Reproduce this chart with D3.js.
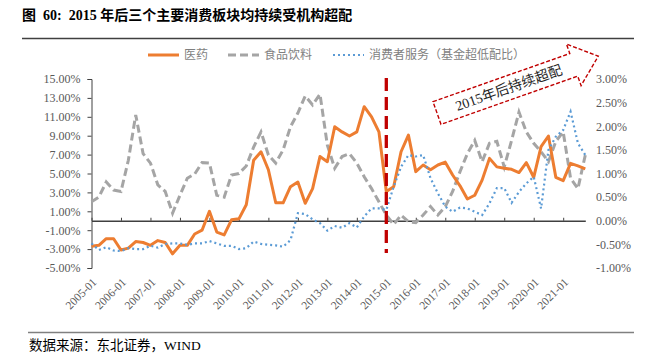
<!DOCTYPE html>
<html>
<head>
<meta charset="utf-8">
<script src="https://cdn.jsdelivr.net/npm/d3@7"></script>
<style>
  body { margin: 0; background: #fff; }
  svg { display: block; }
  text { font-family: "Liberation Serif", "Times New Roman", "Noto Sans CJK SC", serif; }
</style>
</head>
<body>
<svg id="chart" width="654" height="364"></svg>
<script>
// quarterly categories 2005-01 .. 2021-10
var years = d3.range(2005, 2022);
var months = ["01", "04", "07", "10"];
var categories = [];
years.forEach(function (y) { months.forEach(function (m) { categories.push(y + "-" + m); }); });

var tickLabels = ["2005-01","2006-01","2007-01","2008-01","2009-01","2010-01","2011-01","2012-01",
  "2013-01","2014-01","2015-01","2016-01","2017-01","2018-01","2019-01","2020-01","2021-01"];

// 医药 (left axis, %)
var medicine = [-2.7,-2.6,-1.9,-1.9,-3.1,-2.9,-2.2,-2.3,-2.6,-2.1,
  -2.3,-3.5,-2.6,-2.6,-1.4,-1.0,1.0,-1.2,-1.5,0.1,
  0.2,1.7,6.4,7.3,5.4,1.9,1.9,3.6,4.1,1.85,
  3.4,6.8,6.25,9.95,9.4,8.97,9.4,12.07,11.0,9.4,
  3.1,3.6,7.3,9.07,5.2,5.9,5.4,5.9,6.2,4.84,
  3.7,2.3,2.7,4.3,6.6,5.7,5.55,5.44,5.1,6.15,
  4.6,7.84,8.97,4.6,4.24,6.07,5.8,5.5];

// 食品饮料 (left axis, %)
var food = [2.0,2.5,4.1,3.25,3.1,6.4,11.2,7.1,6.1,3.8,
  3.1,0.8,2.7,4.5,4.95,6.15,6.1,2.7,2.5,4.84,
  5.0,5.8,7.8,9.4,6.95,6.1,7.5,9.95,11.4,13.2,
  12.25,13.4,8.0,5.55,6.8,7.1,6.1,4.66,3.4,2.0,
  0.6,-0.4,0.6,-0.1,-0.2,0.6,1.5,0.6,1.5,3.1,
  5.2,7.1,8.5,6.25,8.2,8.4,5.7,8.5,11.5,9.4,
  8.2,7.3,6.25,8.4,9.4,4.5,3.4,6.95];

// 消费者服务 (right axis, %)
var services = [-0.48,-0.62,-0.56,-0.63,-0.64,-0.58,-0.6,-0.6,-0.53,-0.57,
  -0.49,-0.48,-0.48,-0.51,-0.48,-0.48,-0.43,-0.48,-0.53,-0.53,
  -0.6,-0.58,-0.44,-0.49,-0.51,-0.52,-0.55,-0.41,0.16,0.14,
  0.03,-0.05,-0.21,-0.11,-0.15,-0.05,-0.14,0.09,0.26,0.26,
  0.23,0.72,1.14,1.39,1.36,1.39,0.9,0.58,0.3,0.19,
  0.28,0.26,0.19,0.12,0.37,0.69,0.69,0.38,0.61,0.79,
  0.93,0.26,1.5,1.78,1.92,2.31,1.64,1.39];

var leftTicks = [-5, -3, -1, 1, 3, 5, 7, 9, 11, 13, 15];
var rightTicks = [-1, -0.5, 0, 0.5, 1, 1.5, 2, 2.5, 3];

var svg = d3.select("#chart");
var plotTop = 79, plotBottom = 268;

var x = d3.scalePoint().domain(categories).range([91.5, 585.3]);
var yL = d3.scaleLinear().domain([-5, 15]).range([plotBottom, plotTop]);
var yR = d3.scaleLinear().domain([-1, 3]).range([plotBottom, plotTop]);

// title
svg.append("text").attr("x", 22).attr("y", 20)
    .attr("font-size", 14).attr("font-weight", "bold").attr("fill", "#000")
    .style("white-space", "pre")
    .text("图  60:  2015 年后三个主要消费板块均持续受机构超配");
svg.append("line").attr("x1", 22).attr("x2", 634).attr("y1", 38.5).attr("y2", 38.5)
    .attr("stroke", "#404040").attr("stroke-width", 1.3);

// left axis
var gL = svg.append("g").attr("transform", "translate(91.5,0)")
    .call(d3.axisLeft(yL).tickValues(leftTicks).tickSize(4).tickPadding(7)
        .tickFormat(function (d) { return d.toFixed(2) + "%"; }));
gL.selectAll("path,line").attr("stroke", "#404040");
gL.selectAll("text").attr("font-size", 12).attr("fill", "#595959")
    .style("font-family", "'Liberation Serif', serif");

// right axis (labels only)
var gR = svg.append("g").attr("transform", "translate(591,0)")
    .call(d3.axisRight(yR).tickValues(rightTicks).tickSize(0).tickPadding(5)
        .tickFormat(function (d) { return d.toFixed(2) + "%"; }));
gR.select(".domain").remove();
gR.selectAll("text").attr("font-size", 12).attr("fill", "#595959")
    .style("font-family", "'Liberation Serif', serif");

// x axis line at zero with upward ticks
var gX = svg.append("g").attr("transform", "translate(0," + yL(0) + ")")
    .call(d3.axisTop(x).tickValues(tickLabels).tickSize(3).tickSizeOuter(0).tickFormat(""));
gX.selectAll("path,line").attr("stroke", "#404040");
gX.select(".domain").attr("stroke-width", 1.5);

// x labels at bottom, rotated
svg.append("g").selectAll("text").data(tickLabels).enter().append("text")
    .attr("transform", function (d) { return "translate(" + (x(d) + 3) + ",280) rotate(-45)"; })
    .attr("text-anchor", "end").attr("dy", "0.35em")
    .attr("font-size", 11.5).attr("fill", "#595959")
    .text(function (d) { return d; });

// lines
var lineL = d3.line().x(function (d, i) { return x(categories[i]); }).y(function (d) { return yL(d); });
var lineR = d3.line().x(function (d, i) { return x(categories[i]); }).y(function (d) { return yR(d); });

svg.append("path").datum(food).attr("d", lineL)
    .attr("fill", "none").attr("stroke", "#A5A5A5").attr("stroke-width", 3)
    .attr("stroke-dasharray", "8,4");
svg.append("path").datum(medicine).attr("d", lineL)
    .attr("fill", "none").attr("stroke", "#ED7D31").attr("stroke-width", 3)
    .attr("stroke-linejoin", "round");
svg.append("path").datum(services).attr("d", lineR)
    .attr("fill", "none").attr("stroke", "#5B9BD5").attr("stroke-width", 2.2)
    .attr("stroke-dasharray", "2,3");

// 2015 marker
svg.append("line").attr("x1", x("2015-01")).attr("x2", x("2015-01"))
    .attr("y1", 78).attr("y2", 253)
    .attr("stroke", "#C00000").attr("stroke-width", 3.3).attr("stroke-dasharray", "13,6");

// legend
var legend = [
  { name: "医药", color: "#ED7D31", dash: null, w: 3, x0: 148 },
  { name: "食品饮料", color: "#A5A5A5", dash: "8,4", w: 3, x0: 228 },
  { name: "消费者服务（基金超低配比）", color: "#5B9BD5", dash: "2,3", w: 2.2, x0: 333 }
];
var lg = svg.append("g").selectAll("g").data(legend).enter().append("g");
lg.append("line").attr("x1", function (d) { return d.x0; }).attr("x2", function (d) { return d.x0 + 31; })
    .attr("y1", 55).attr("y2", 55)
    .attr("stroke", function (d) { return d.color; }).attr("stroke-width", function (d) { return d.w; })
    .attr("stroke-dasharray", function (d) { return d.dash; });
lg.append("text").attr("x", function (d) { return d.x0 + 36; }).attr("y", 55).attr("dy", "0.35em")
    .attr("font-size", 12).attr("fill", "#7f7f7f")
    .style("font-family", "'Noto Sans CJK SC', sans-serif")
    .text(function (d) { return d.name; });

// annotation arrow
var ann = svg.append("g").attr("transform", "translate(437,113) rotate(-19.4)");
ann.append("path").attr("d", "M0,-12L145,-12L145,-22L171,0L145,22L145,12L0,12Z")
    .attr("fill", "#fff").attr("stroke", "#C00000").attr("stroke-width", 1.4)
    .attr("stroke-dasharray", "4,2");
ann.append("text").attr("x", 76).attr("y", 0).attr("dy", "0.35em")
    .attr("text-anchor", "middle").attr("font-size", 14).attr("fill", "#262626")
    .text("2015年后持续超配");

// footer
svg.append("line").attr("x1", 28).attr("x2", 634).attr("y1", 332.5).attr("y2", 332.5)
    .attr("stroke", "#808080").attr("stroke-width", 1.6);
svg.append("text").attr("x", 29).attr("y", 345).attr("dy", "0.35em")
    .attr("font-size", 13.5).attr("fill", "#000")
    .text("数据来源：东北证券，WIND");
</script>
</body>
</html>
